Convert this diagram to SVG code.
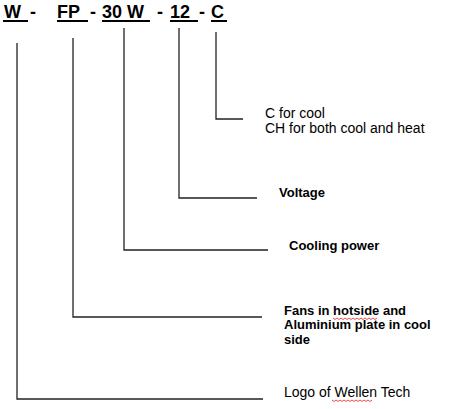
<svg xmlns="http://www.w3.org/2000/svg" width="451" height="409" viewBox="0 0 451 409">
<style>
.hdr{font-family:"Liberation Sans",Arial,sans-serif;font-size:18px;font-weight:bold;fill:#000}
.lbl{font-family:"Liberation Sans",Arial,sans-serif;font-size:14px;fill:#000}
.b{font-weight:bold;font-size:13px}
.ul{stroke:#000;stroke-width:2}
.conn{fill:none;stroke:#222;stroke-width:1.3}
.sq{fill:none;stroke:#e02020;stroke-width:0.8}
</style>
<rect width="451" height="409" fill="#fff"/>
<g id="code">
  <g id="seg-W"><text class="hdr" x="4" y="18">W</text><line class="ul" x1="3" y1="21" x2="28" y2="21"/></g>
  <text class="hdr" x="30" y="18">-</text>
  <g id="seg-FP"><text class="hdr" x="57" y="18">FP</text><line class="ul" x1="57" y1="21" x2="88" y2="21"/></g>
  <text class="hdr" x="90" y="18">-</text>
  <g id="seg-30W"><text class="hdr" x="102" y="18">30 W</text><line class="ul" x1="102" y1="21" x2="150" y2="21"/></g>
  <text class="hdr" x="157" y="18">-</text>
  <g id="seg-12"><text class="hdr" x="170" y="18">12</text><line class="ul" x1="170" y1="21" x2="198" y2="21"/></g>
  <text class="hdr" x="199" y="18">-</text>
  <g id="seg-C"><text class="hdr" x="211" y="18">C</text><line class="ul" x1="211" y1="21" x2="227" y2="21"/></g>
</g>
<g id="connectors">
  <polyline class="conn" points="17,43 17,399 263,399"/>
  <polyline class="conn" points="73,38 73,317 262,317"/>
  <polyline class="conn" points="124,28 124,250 268,250"/>
  <polyline class="conn" points="179,28 179,198 257,198"/>
  <polyline class="conn" points="216,32 216,119 243,119"/>
</g>
<g id="label-C">
  <text class="lbl" x="265" y="118">C for cool</text>
  <text class="lbl" x="265" y="133">CH for both cool and heat</text>
</g>
<g id="label-voltage"><text class="lbl b" x="279" y="197">Voltage</text></g>
<g id="label-cooling"><text class="lbl b" x="289" y="250">Cooling power</text></g>
<g id="label-fans">
  <text class="lbl b" x="284" y="315">Fans in hotside and</text>
  <text class="lbl b" x="284" y="329">Aluminium plate in cool</text>
  <text class="lbl b" x="284" y="344">side</text>
  <path class="sq" d="M333,318 l2,1.5 2,-1.5 2,1.5 2,-1.5 2,1.5 2,-1.5 2,1.5 2,-1.5 2,1.5 2,-1.5 2,1.5 2,-1.5 2,1.5 2,-1.5 2,1.5 2,-1.5 2,1.5 2,-1.5 2,1.5 2,-1.5 2,1.5 2,-1.5"/>
</g>
<g id="label-logo">
  <text class="lbl" x="284" y="397">Logo of Wellen Tech</text>
  <path class="sq" d="M332,400 l2,1.5 2,-1.5 2,1.5 2,-1.5 2,1.5 2,-1.5 2,1.5 2,-1.5 2,1.5 2,-1.5 2,1.5 2,-1.5 2,1.5 2,-1.5 2,1.5 2,-1.5 2,1.5 2,-1.5 2,1.5 2,-1.5"/>
</g>
</svg>
